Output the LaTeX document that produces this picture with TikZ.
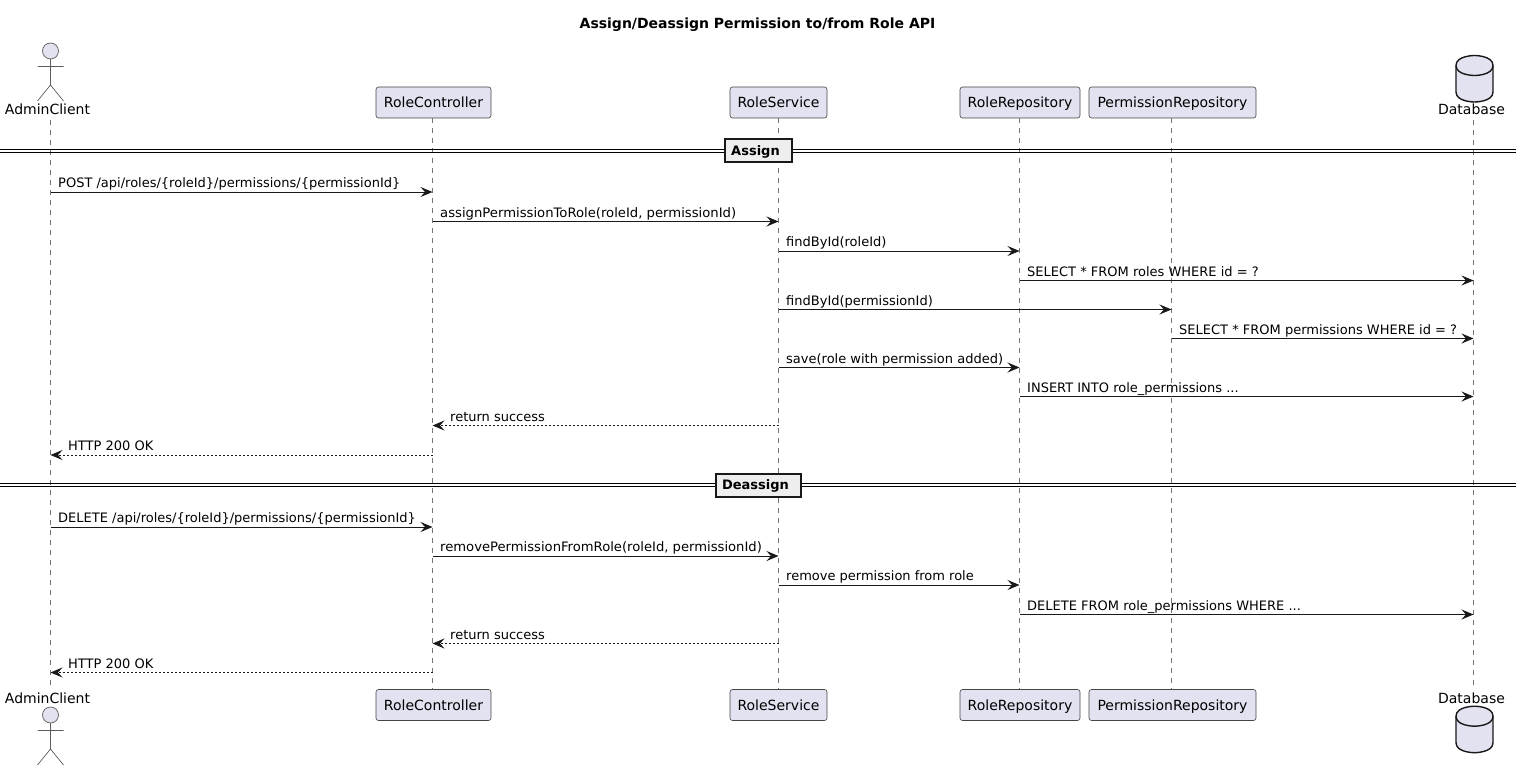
\documentclass[tikz,border=0pt]{standalone}
\usepackage{fontspec}
\setmainfont{DejaVu Sans}
\usetikzlibrary{arrows.meta,calc}
\definecolor{partfill}{HTML}{E2E2F0}
\definecolor{partline}{HTML}{181818}
\definecolor{lifeline}{HTML}{757575}
\definecolor{divfill}{HTML}{EEEEEE}
\tikzset{
  part/.style={draw=partline!80,line width=0.6pt,fill=partfill,rounded corners=2.5pt,inner sep=0pt,minimum height=31pt,text height=13pt,text depth=3pt,font=\fontsize{14}{16}\selectfont,text=black},
  nametext/.style={inner sep=0pt,font=\fontsize{14}{16}\selectfont,text=black},
  life/.style={draw=lifeline,line width=0.8pt,dash pattern=on 5pt off 5pt},
  actorline/.style={draw=partline!70,line width=0.7pt},
  msg/.style={draw=black!90,line width=0.9pt,-{Stealth[length=12pt,width=10pt,inset=4.5pt]}},
  ret/.style={msg,dash pattern=on 2pt off 2pt},
  lab/.style={inner sep=0pt,anchor=base west,font=\fontsize{13}{15}\selectfont,text=black},
  divbox/.style={draw=black!90,line width=2pt,fill=divfill,inner sep=0pt,minimum height=23pt,text height=12pt,text depth=3pt,font=\bfseries\fontsize{13}{15}\selectfont,text=black},
  divline/.style={draw=black,line width=1.1pt},
  dbshape/.style={draw=partline,line width=1.4pt,fill=partfill}
}
\newcommand{\msgR}[5][msg]{% style, from, to, y, label : left to right
  \draw[#1] (#2 |- 0,#4) -- (#3 |- 0,#4);
  \node[lab] at ($(#2 |- 0,#4)+(7.5,-4.5)$) {#5};}
\newcommand{\msgL}[5][ret]{% return: right to left
  \draw[#1] (#2 |- 0,#4) -- (#3 |- 0,#4);
  \node[lab] at ($(#3 |- 0,#4)+(17.5,-4.5)$) {#5};}
\newcommand{\actorfig}[2]{% x, top of head
  \draw[actorline,fill=partfill] (#1,#2+8) circle (8);
  \draw[actorline] (#1,#2+16) -- (#1,#2+42)
    (#1-13,#2+23.5) -- (#1+13,#2+23.5)
    (#1-13,#2+58) -- (#1,#2+42) -- (#1+13,#2+58);}
\newcommand{\dbfig}[2]{% left x, top (37 wide, 46.5 tall)
  \draw[dbshape] (#1,#2+10) .. controls (#1,#2) and (#1+18.5,#2) .. (#1+18.5,#2)
    .. controls (#1+18.5,#2) and (#1+37,#2) .. (#1+37,#2+10)
    -- (#1+37,#2+36.5) .. controls (#1+37,#2+46.5) and (#1+18.5,#2+46.5) .. (#1+18.5,#2+46.5)
    .. controls (#1+18.5,#2+46.5) and (#1,#2+46.5) .. (#1,#2+36.5) -- cycle;
  \draw[dbshape,fill=none] (#1,#2+10) .. controls (#1,#2+20) and (#1+18.5,#2+20) .. (#1+18.5,#2+20)
    .. controls (#1+18.5,#2+20) and (#1+37,#2+20) .. (#1+37,#2+10);}
\begin{document}
\begin{tikzpicture}[x=1pt,y=-1pt]
\useasboundingbox (0,0) rectangle (1522,770);
\fill[white] (0,0) rectangle (1522,770);

\node[font=\bfseries\fontsize{14}{16}\selectfont,inner sep=0pt] (title) at (757.5,24.5) {Assign/Deassign Permission to/from Role API};

% top row
\node[nametext,anchor=base] (ac) at (47.5,115) {AdminClient};
\node[part,minimum width=115pt] (rc) at (433.5,102.5) {RoleController};
\node[part,minimum width=97pt] (rs) at (778.5,102.5) {RoleService};
\node[part,minimum width=120pt] (rr) at (1020,102.5) {RoleRepository};
\node[part,minimum width=167pt] (pr) at (1172.5,102.5) {PermissionRepository};
\node[nametext,anchor=base] (db) at (1471.5,115) {Database};
% bottom row
\node[nametext,anchor=base] (ac2) at (47.5,703) {AdminClient};
\node[part,minimum width=115pt] (rc2) at (433.5,705) {RoleController};
\node[part,minimum width=97pt] (rs2) at (778.5,705) {RoleService};
\node[part,minimum width=120pt] (rr2) at (1020,705) {RoleRepository};
\node[part,minimum width=167pt] (pr2) at (1172.5,705) {PermissionRepository};
\node[nametext,anchor=base] (db2) at (1471.5,703) {Database};

% lifeline anchors
\coordinate (LA) at (50.5,120);  \coordinate (LA2) at (50.5,689);
\coordinate (LC) at (432.5,118); \coordinate (LC2) at (432.5,689);
\coordinate (LS) at (778.5,118); \coordinate (LS2) at (778.5,689);
\coordinate (LR) at (1019.5,118);\coordinate (LR2) at (1019.5,689);
\coordinate (LP) at (1171.5,118);\coordinate (LP2) at (1171.5,689);
\coordinate (LD) at (1473.5,120);\coordinate (LD2) at (1473.5,689);
\foreach \a/\b in {LA/LA2,LC/LC2,LS/LS2,LR/LR2,LP/LP2,LD/LD2}
  \draw[life] (\a) -- (\b);

% figures
\actorfig{50.5}{43}
\actorfig{50.5}{707}
\dbfig{1456}{55.5}
\dbfig{1456}{706.2}

% dividers
\coordinate (dl) at (0,0); \coordinate (dr) at (1516,0);
\draw[divline] (dl |- 0,149.5) -- (dr |- 0,149.5) (dl |- 0,152.5) -- (dr |- 0,152.5);
\draw[divline] (dl |- 0,483.5) -- (dr |- 0,483.5) (dl |- 0,486.5) -- (dr |- 0,486.5);
\node[divbox,minimum width=67pt] (d1) at (758,151) {Assign\rule{5pt}{0pt}};
\node[divbox,minimum width=85pt] (d2) at (758,485) {Deassign\rule{5pt}{0pt}};

% messages
\msgR{LA}{LC}{192}{POST /api/roles/\{roleId\}/permissions/\{permissionId\}}
\msgR{LC}{LS}{221.5}{\scalebox{1.015}[1]{assignPermissionToRole(roleId, permissionId)}}
\msgR{LS}{LR}{251}{findById(roleId)}
\msgR{LR}{LD}{280.5}{SELECT * FROM roles WHERE id = ?}
\msgR{LS}{LP}{309.5}{findById(permissionId)}
\msgR{LP}{LD}{338.5}{SELECT * FROM permissions WHERE id = ?}
\msgR{LS}{LR}{367.5}{save(role with permission added)}
\msgR{LR}{LD}{396.5}{INSERT INTO role\_permissions ...}
\msgL{LS}{LC}{425.5}{return success}
\msgL{LC}{LA}{455}{HTTP 200 OK}
\msgR{LA}{LC}{527}{DELETE /api/roles/\{roleId\}/permissions/\{permissionId\}}
\msgR{LC}{LS}{556}{\scalebox{1.012}[1]{removePermissionFromRole(roleId, permissionId)}}
\msgR{LS}{LR}{585}{remove permission from role}
\msgR{LR}{LD}{614.5}{DELETE FROM role\_permissions WHERE ...}
\msgL{LS}{LC}{643.5}{return success}
\msgL{LC}{LA}{672.5}{HTTP 200 OK}
\end{tikzpicture}
\end{document}
